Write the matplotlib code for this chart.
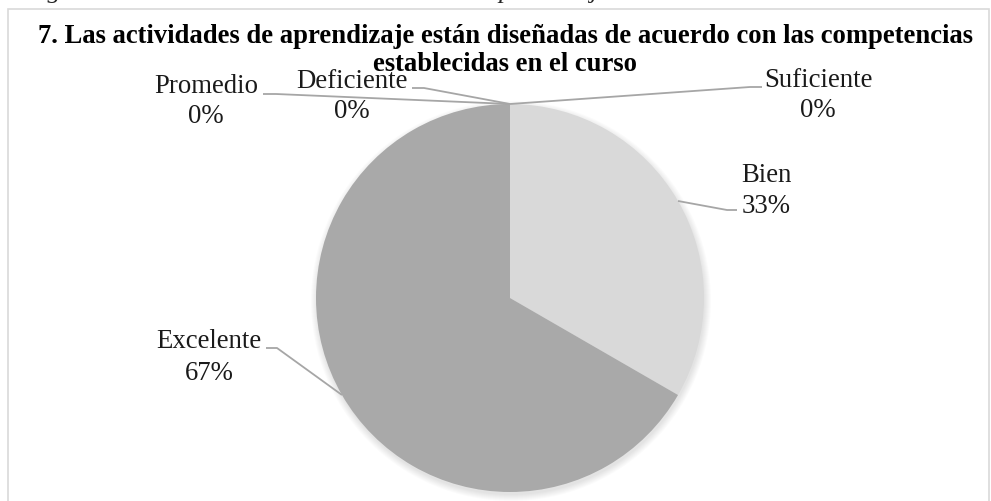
import numpy as np
import matplotlib.pyplot as plt
from matplotlib.patches import Circle, Rectangle

plt.rcParams['font.family'] = ['Liberation Serif', 'DejaVu Serif']

# data
categorias = ["Bien", "Excelente", "Promedio", "Deficiente", "Suficiente"]
valores = [1, 2, 0, 0, 0]
colores = ["#d9d9d9", "#a9a9a9", "#bfbfbf", "#bfbfbf", "#bfbfbf"]

titulo = ["7. Las actividades de aprendizaje están diseñadas de acuerdo con las competencias",
          "establecidas en el curso"]
leyenda_sup = "Figura 7. Evaluación de las actividades de aprendizaje"

W, H = 991, 502


def py(y):
    # pixel row (from top) -> data y
    return H - y


# label x centre, baseline of name and of percent (pixels), in category order
lab_xy = [(766, 182, 213), (209, 348, 380), (206, 93, 123),
          (352, 88, 118), (818, 87, 117)]
# leader line: start next to label, then elbow
elbow = [((737, 211), (727, 211)),
         ((266, 349), (277, 349)),
         ((263, 95), (276, 95)),
         ((412, 89), (424, 89)),
         ((762, 88), (750, 88))]

cx, cy, r = 510, py(299), 194

fig = plt.figure(figsize=(W / 100, H / 100), dpi=100)
ax = fig.add_axes([0, 0, 1, 1])

# chart area border
ax.add_patch(Rectangle((8, py(502) - 5), 981, py(10) - py(502) + 5,
                       fill=False, edgecolor="#d9d9d9", linewidth=1.2, zorder=0))

# soft shadow behind the pie
for i in range(7):
    ax.add_patch(Circle((cx + 1, cy - 3), r + i, color="black",
                        alpha=0.017, linewidth=0, zorder=1))

wedges, _ = ax.pie(valores, colors=colores, startangle=90, counterclock=False,
                   center=(cx, cy), radius=r, frame=True,
                   wedgeprops=dict(linewidth=0, zorder=2))

total = sum(valores)
theta = 90.0
for i, (cat, v) in enumerate(zip(categorias, valores)):
    ang = theta - 360.0 * v / total / 2
    theta -= 360.0 * v / total
    ax_x = cx + r * np.cos(np.radians(ang))
    ax_y = cy + r * np.sin(np.radians(ang))
    (x0, y0), (x1, y1) = elbow[i]
    ax.plot([x0, x1, ax_x], [py(y0), py(y1), ax_y], color="#a6a6a6",
            linewidth=1.3, zorder=3, solid_capstyle="butt")
    lx, b1, b2 = lab_xy[i]
    ax.text(lx, py(b1), cat, ha="center", va="baseline", fontsize=19.3,
            color="#1a1a1a", zorder=4)
    ax.text(lx, py(b2), f"{v / total:.0%}", ha="center", va="baseline",
            fontsize=19.3, color="#1a1a1a", zorder=4)

ax.text(505, py(43), titulo[0], ha="center", va="baseline", fontsize=19.2,
        fontweight="bold", color="black", zorder=5)
ax.text(505, py(71), titulo[1], ha="center", va="baseline", fontsize=19.2,
        fontweight="bold", color="black", zorder=5)

# caption above the chart, cut by the page edge
ax.text(610, py(-2), leyenda_sup, ha="right", va="baseline", fontsize=19,
        style="italic", color="#262626")

ax.set_xlim(0, W)
ax.set_ylim(0, H)
ax.set_aspect("auto")
ax.axis("off")

fig.savefig("out.png", dpi=100)
